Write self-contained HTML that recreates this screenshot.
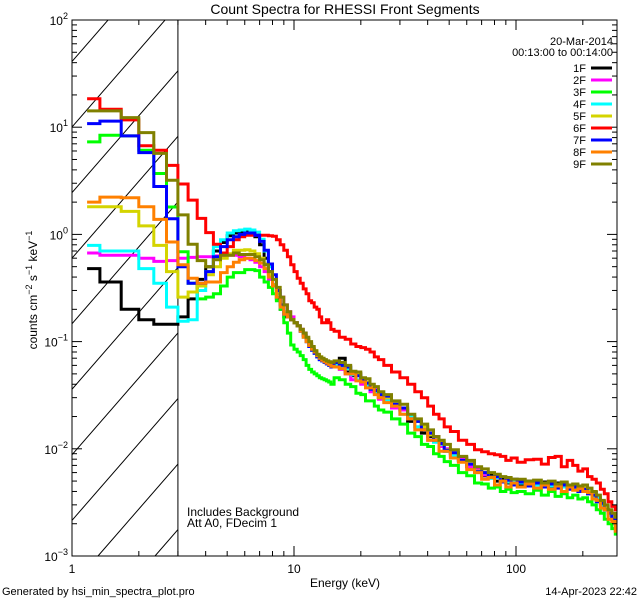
<!DOCTYPE html>
<html><head><meta charset="utf-8"><style>
html,body{margin:0;padding:0;background:#fff;}
svg{display:block;font-family:"Liberation Sans",sans-serif;}
</style></head><body>
<svg id="chart" width="640" height="600" viewBox="0 0 640 600" xmlns="http://www.w3.org/2000/svg">
<rect width="640" height="600" fill="#fff"/>
<text x="345" y="14" font-size="14" text-anchor="middle">Count Spectra for RHESSI Front Segments</text>
<g id="hatch"></g>
<g id="series"></g>
<g id="axes"></g>
<g id="legend"></g>
<text x="187" y="516" font-size="12">Includes Background</text>
<text x="187" y="527" font-size="12">Att A0, FDecim 1</text>
<text x="345" y="587" font-size="12" text-anchor="middle">Energy (keV)</text>
<text x="37" y="290" font-size="12" text-anchor="middle" transform="rotate(-90 37 290)">counts cm<tspan dy="-5" font-size="9">−2</tspan><tspan dy="5"> s</tspan><tspan dy="-5" font-size="9">−1</tspan><tspan dy="5"> keV</tspan><tspan dy="-5" font-size="9">−1</tspan></text>
<text x="2" y="595" font-size="11">Generated by hsi_min_spectra_plot.pro</text>
<text x="637" y="595" font-size="11" text-anchor="end">14-Apr-2023 22:42</text>
</svg>
<script>
const energies = [1.17,1.5,1.83,2.17,2.5,2.83,3.17,3.5,3.83,4.17,4.5,4.83,5.17,5.5,5.83,6.17,6.5,6.83,7.17,7.5,7.83,8.17,8.5,8.83,9.17,9.5,9.83,10.17,10.5,10.83,11.17,11.5,11.83,12.17,12.5,12.83,13.17,13.5,13.83,14.17,14.5,14.83,
15.5,16.5,17.5,18.5,19.5,20.5,21.5,22.5,23.5,24.5,
26.25,28.75,31.25,33.75,36.25,38.75,41.25,43.75,46.25,48.75,
52.5,57.5,62.5,67.5,72.5,77.5,82.5,87.5,92.5,97.5,
105,115,125,135,145,155,165,175,185,195,205,215,225,235,245,255,265,275,285];
const seriesNames = ["1F","2F","3F","4F","5F","6F","7F","8F","9F"];
const s1F = [0.48,0.36,0.2,0.16,0.145,0.145,0.17,0.25,0.38,0.5,0.7,0.84,0.97,1.03,1.03,1.06,1.06,0.95,0.8,0.6,0.45,0.33,0.25,0.2,0.17,0.17,0.16,0.15,0.14,0.13,0.12,0.105,0.095,0.085,0.08,0.075,0.07,0.068,0.066,0.063,0.062,0.06,
0.063,0.07,0.052,0.048,0.05,0.041,0.042,0.035,0.036,0.03,0.03,0.025,0.023,0.018,0.018,0.014,0.013,0.013,0.0105,0.0095,0.009,0.0082,0.0068,0.0065,0.0056,0.0058,0.005,0.0053,0.0048,0.0052,0.0047,0.005,0.0046,0.0049,0.0044,0.0048,0.0045,0.0043,0.0046,0.0041,0.0044,0.0038,0.0039,0.0033,0.0032,0.0027,0.0026,0.0022,0.002];
const s2F = [0.67,0.64,0.64,0.6,0.56,0.57,0.6,0.61,0.62,0.62,0.63,0.63,0.64,0.64,0.62,0.6,0.58,0.55,0.5,0.45,0.38,0.34,0.3,0.26,0.22,0.19,0.17,0.15,0.14,0.13,0.115,0.1,0.09,0.085,0.078,0.072,0.068,0.066,0.064,0.062,0.06,0.058,
0.058,0.055,0.05,0.044,0.048,0.04,0.038,0.034,0.036,0.029,0.03,0.024,0.023,0.02,0.016,0.016,0.012,0.013,0.0105,0.01,0.0085,0.008,0.0068,0.0064,0.0057,0.0054,0.0055,0.005,0.0052,0.0047,0.005,0.0046,0.0049,0.0045,0.0048,0.0044,0.0047,0.0043,0.0045,0.0042,0.0043,0.0041,0.0036,0.0035,0.003,0.0029,0.0024,0.0024,0.0022];
const s3F = [7.3,8.4,8.3,6.1,3.7,1.8,0.69,0.35,0.25,0.26,0.28,0.33,0.4,0.44,0.44,0.47,0.47,0.46,0.4,0.36,0.32,0.28,0.24,0.2,0.15,0.12,0.093,0.085,0.08,0.074,0.068,0.06,0.055,0.052,0.05,0.048,0.046,0.045,0.044,0.043,0.042,0.04,
0.046,0.044,0.04,0.038,0.033,0.032,0.028,0.028,0.025,0.023,0.022,0.019,0.017,0.014,0.013,0.011,0.0105,0.009,0.0085,0.0076,0.007,0.006,0.0056,0.0048,0.0047,0.0043,0.0044,0.004,0.0042,0.0039,0.004,0.0038,0.0041,0.0037,0.004,0.0036,0.0038,0.0035,0.0037,0.0034,0.0035,0.0032,0.003,0.0027,0.0025,0.0022,0.002,0.0018,0.0016];
const s4F = [0.79,0.7,0.7,0.48,0.35,0.21,0.155,0.16,0.3,0.45,0.77,0.89,1.03,1.08,1.1,1.12,1.1,1.05,0.9,0.7,0.5,0.38,0.28,0.21,0.18,0.17,0.16,0.15,0.14,0.125,0.11,0.1,0.09,0.083,0.078,0.072,0.068,0.066,0.064,0.062,0.06,0.058,
0.06,0.058,0.056,0.049,0.044,0.045,0.039,0.036,0.033,0.033,0.028,0.027,0.021,0.02,0.016,0.015,0.0135,0.0115,0.011,0.0095,0.0087,0.0076,0.0072,0.006,0.006,0.0053,0.0054,0.005,0.0049,0.005,0.0048,0.0049,0.0046,0.0048,0.0045,0.0047,0.0044,0.0046,0.0043,0.0044,0.0041,0.0041,0.0036,0.0035,0.003,0.0029,0.0024,0.0023,0.0022];
const s5F = [1.81,1.81,1.64,1.2,0.79,0.45,0.26,0.29,0.33,0.42,0.5,0.6,0.66,0.71,0.71,0.72,0.7,0.66,0.6,0.53,0.42,0.34,0.28,0.22,0.19,0.17,0.16,0.15,0.14,0.13,0.115,0.105,0.095,0.088,0.082,0.076,0.072,0.068,0.066,0.064,0.063,0.061,
0.065,0.062,0.058,0.05,0.049,0.043,0.042,0.038,0.035,0.031,0.03,0.027,0.024,0.019,0.018,0.016,0.0135,0.012,0.0115,0.0098,0.0092,0.0078,0.0074,0.0062,0.006,0.0054,0.0056,0.005,0.0053,0.0048,0.0051,0.0047,0.005,0.0046,0.0049,0.0045,0.0048,0.0044,0.0046,0.0043,0.0044,0.004,0.0038,0.0033,0.0032,0.0028,0.0026,0.0023,0.0022];
const s6F = [18.4,14.7,11.7,6.7,6.1,4.4,2.95,2.09,1.41,1.04,0.81,0.67,0.77,0.89,0.95,0.98,0.98,0.98,0.98,0.98,0.97,0.96,0.89,0.8,0.71,0.62,0.52,0.45,0.39,0.35,0.31,0.28,0.24,0.23,0.21,0.2,0.17,0.15,0.15,0.16,0.15,0.13,
0.125,0.11,0.105,0.095,0.09,0.088,0.085,0.08,0.072,0.068,0.06,0.052,0.046,0.04,0.034,0.03,0.025,0.021,0.019,0.016,0.0145,0.012,0.011,0.0098,0.0094,0.009,0.0088,0.0085,0.0078,0.0082,0.0075,0.0079,0.008,0.0072,0.0083,0.0085,0.0068,0.0078,0.007,0.0062,0.0065,0.0055,0.0052,0.0048,0.0042,0.0038,0.0032,0.0029,0.0027];
const s7F = [10.8,11.4,8.3,5.8,2.8,1.4,0.5,0.35,0.35,0.45,0.62,0.77,0.89,0.95,1.0,1.03,1.03,0.98,0.86,0.71,0.53,0.42,0.3,0.22,0.18,0.17,0.16,0.15,0.14,0.125,0.115,0.1,0.09,0.083,0.078,0.072,0.068,0.066,0.064,0.062,0.06,0.058,
0.064,0.06,0.058,0.05,0.048,0.044,0.041,0.036,0.035,0.032,0.031,0.026,0.024,0.019,0.018,0.015,0.014,0.012,0.0112,0.0097,0.0092,0.0078,0.0072,0.0061,0.006,0.0054,0.0055,0.0049,0.0051,0.0046,0.0049,0.0045,0.0048,0.0044,0.0047,0.0043,0.0046,0.0042,0.0044,0.004,0.0042,0.0038,0.0037,0.0032,0.0031,0.0027,0.0025,0.0022,0.0021];
const s8F = [2.0,2.23,2.2,1.81,1.38,0.85,0.52,0.39,0.35,0.36,0.36,0.44,0.5,0.55,0.58,0.6,0.6,0.57,0.54,0.48,0.4,0.33,0.26,0.21,0.18,0.17,0.16,0.15,0.14,0.125,0.11,0.1,0.092,0.085,0.08,0.074,0.07,0.067,0.065,0.063,0.061,0.059,
0.058,0.056,0.05,0.05,0.043,0.042,0.037,0.037,0.032,0.03,0.027,0.025,0.021,0.019,0.015,0.015,0.012,0.012,0.0095,0.0095,0.0082,0.0075,0.0064,0.006,0.0052,0.0054,0.0046,0.005,0.0044,0.0048,0.0044,0.0047,0.0043,0.0046,0.0042,0.0045,0.004,0.0044,0.0041,0.0043,0.004,0.0039,0.0034,0.0033,0.0028,0.0027,0.0022,0.0021,0.0017];
const s9F = [14.2,14.2,12.3,8.9,5.7,3.2,1.52,0.81,0.57,0.5,0.58,0.64,0.64,0.67,0.65,0.65,0.65,0.62,0.58,0.52,0.45,0.38,0.32,0.26,0.22,0.19,0.16,0.15,0.14,0.13,0.12,0.11,0.1,0.09,0.082,0.076,0.072,0.07,0.068,0.066,0.065,0.064,
0.066,0.064,0.06,0.053,0.052,0.046,0.045,0.04,0.038,0.034,0.032,0.028,0.026,0.021,0.019,0.017,0.015,0.013,0.012,0.011,0.0098,0.0085,0.0078,0.0068,0.0065,0.006,0.0058,0.0055,0.0054,0.0052,0.0052,0.005,0.0051,0.0048,0.005,0.0047,0.0049,0.0046,0.0047,0.0045,0.0046,0.0043,0.004,0.0037,0.0033,0.003,0.0027,0.0025,0.0023];
const seriesColors = ["#000000","#ff00ff","#00ff00","#00ffff","#d4d400","#ff0000","#0000ff","#ff8000","#808000"];
const xTickMajor = [1,10,100];
const xTickLabels = ["1","10","100"];
const yTickExp = [2,1,0,-1,-2,-3];
const dateLabel = "20-Mar-2014";
const timeLabel = "00:13:00 to 00:14:00";

const NS = "http://www.w3.org/2000/svg";
const L = 72, R = 617, T = 20, B = 556;
const xMin = 1, decX = 222, yMax = 2, yMin = -3;
function xs(e){ return L + Math.log10(e / xMin) * decX; }
function ys(v){ return T + (yMax - Math.log10(v)) * (B - T) / (yMax - yMin); }
function mk(tag, attrs, parent){ const el = document.createElementNS(NS, tag); for (const k in attrs) el.setAttribute(k, attrs[k]); parent.appendChild(el); return el; }

const svg = document.getElementById('chart');
const defs = mk('defs', {}, svg);
const cp = mk('clipPath', {id:'plotclip'}, defs);
mk('rect', {x:L, y:T, width:R-L, height:B-T}, cp);

// hatch region below 3 keV
const hatch = document.getElementById('hatch');
hatch.setAttribute('clip-path', 'url(#plotclip)');
const xCut = xs(3);
const hclip = mk('clipPath', {id:'hatchclip'}, defs);
mk('rect', {x:L, y:T, width:xCut-L, height:B-T}, hclip);
const hg = mk('g', {'clip-path':'url(#hatchclip)'}, hatch);
for (let x0 = 98 - 57 * 12; x0 < 200; x0 += 57) {
  const ln = mk('line', {x1:x0, y1:B, x2:x0 + 600/1.15, y2:B - 600, stroke:'#000', 'stroke-width':1}, hg);
  
  
}
const cutLine = mk('line', {x1:xCut, y1:T, x2:xCut, y2:B, stroke:'#000', 'stroke-width':1}, hatch);



// series
const allSeries = [s1F,s2F,s3F,s4F,s5F,s6F,s7F,s8F,s9F];
const sg = document.getElementById('series');
sg.setAttribute('clip-path', 'url(#plotclip)');
allSeries.forEach((vals, si) => {
  let d = '';
  for (let i = 0; i < vals.length; i++) {
    const lo = i === 0 ? energies[0] : (energies[i-1] + energies[i]) / 2;
    const hi = i === vals.length - 1 ? energies[i] + (energies[i] - energies[i-1]) / 2 : (energies[i] + energies[i+1]) / 2;
    const y = ys(vals[i]).toFixed(1);
    d += (i === 0 ? 'M' : 'L') + xs(lo).toFixed(1) + ' ' + y + ' L' + xs(hi).toFixed(1) + ' ' + y + ' ';
  }
  const p = mk('path', {d:d, fill:'none', stroke:seriesColors[si], 'stroke-width':3, 'stroke-linejoin':'miter'}, sg);
  
  
});

// axes
const ax = document.getElementById('axes');
const frame = mk('rect', {x:L, y:T, width:R-L, height:B-T, fill:'none', stroke:'#000', 'stroke-width':1}, ax);


for (let dec = 1; dec <= 100; dec *= 10) {
  for (let m = 1; m <= 9; m++) {
    const e = dec * m; const x = xs(e);
    if (x > R + 0.5) continue;
    const len = m === 1 ? 10 : 5;
    const t1 = mk('line', {x1:x, y1:B, x2:x, y2:B-len, stroke:'#000', 'stroke-width':1}, ax);
    
    
    const t2 = mk('line', {x1:x, y1:T, x2:x, y2:T+len, stroke:'#000', 'stroke-width':1}, ax);
    
    
  }
}
xTickMajor.forEach((e, i) => {
  const t = mk('text', {x:xs(e), y:B+17, 'font-size':12, 'text-anchor':'middle'}, ax);
  t.textContent = xTickLabels[i];
  
  
});
for (let ex = yMin; ex < yMax; ex++) {
  for (let m = 1; m <= 9; m++) {
    const y = ys(m * Math.pow(10, ex));
    const len = m === 1 ? 10 : 5;
    const a = mk('line', {x1:L, y1:y, x2:L+len, y2:y, stroke:'#000', 'stroke-width':1}, ax);
    
    
    const b = mk('line', {x1:R, y1:y, x2:R-len, y2:y, stroke:'#000', 'stroke-width':1}, ax);
    
    
  }
}
yTickExp.forEach(ex => {
  const y = ys(Math.pow(10, ex));
  const t = mk('text', {x:L-4, y:y+5, 'font-size':12, 'text-anchor':'end'}, ax);
  
  
  const base = document.createElementNS(NS, 'tspan'); base.textContent = '10'; t.appendChild(base);
  const sup = document.createElementNS(NS, 'tspan'); sup.setAttribute('dy', '-6'); sup.setAttribute('font-size', '9');
  sup.textContent = ex < 0 ? '−' + (-ex) : String(ex); t.appendChild(sup);
});

// legend
const lg = document.getElementById('legend');
const d1 = mk('text', {x:613, y:45, 'font-size':11, 'text-anchor':'end'}, lg);
d1.textContent = dateLabel;


const d2 = mk('text', {x:613, y:56, 'font-size':11, 'text-anchor':'end'}, lg);
d2.textContent = timeLabel;


seriesNames.forEach((n, i) => {
  const y = 68 + i * 12;
  const t = mk('text', {x:586, y:y+4, 'font-size':11, 'text-anchor':'end'}, lg);
  t.textContent = n;
  
  
  const l = mk('line', {x1:591, y1:y, x2:612, y2:y, stroke:seriesColors[i], 'stroke-width':3}, lg);
  
  
});
</script>
</body></html>
